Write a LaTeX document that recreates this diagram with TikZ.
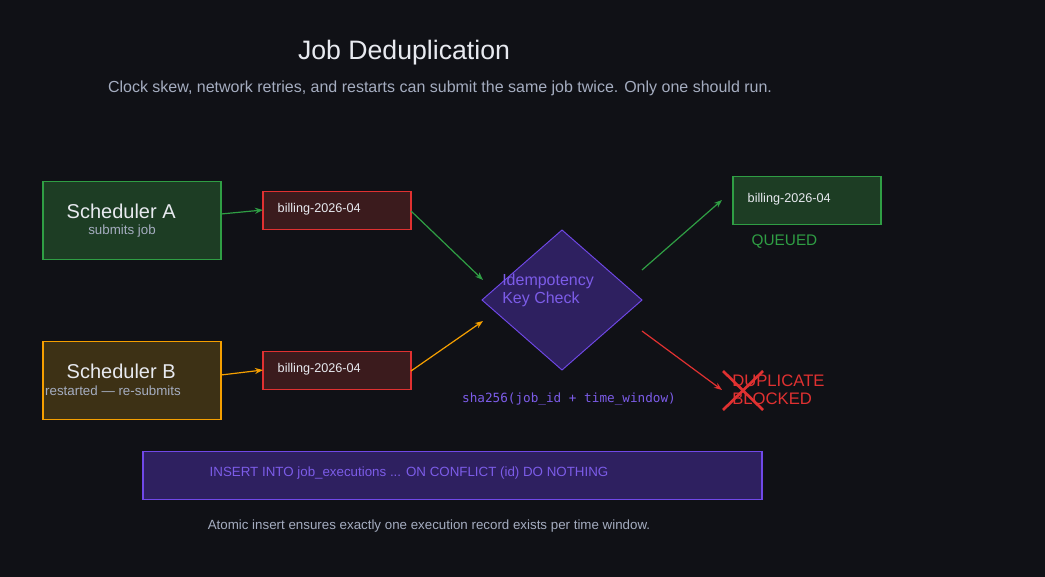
\documentclass[tikz,border=0pt]{standalone}
\usepackage{fontspec}
\setmainfont{Liberation Sans}
\setmonofont{DejaVu Sans Mono}
\usetikzlibrary{shapes.misc,arrows.meta}
\definecolor{bg}{HTML}{101116}
\definecolor{gfill}{HTML}{1D3D24}\definecolor{gline}{HTML}{2F9E44}
\definecolor{ofill}{HTML}{3D3115}\definecolor{oline}{HTML}{F59F00}
\definecolor{rfill}{HTML}{3B1B1D}\definecolor{rline}{HTML}{E03131}
\definecolor{pfill}{HTML}{2E2060}\definecolor{pline}{HTML}{7048E8}
\definecolor{ptext}{HTML}{7C5CE8}
\definecolor{sub}{HTML}{A5ADC0}\definecolor{wt}{HTML}{E8EAF0}
\begin{document}
\begin{tikzpicture}[x=0.75pt,y=-0.75pt,
 box/.style={chamfered rectangle,chamfered rectangle xsep=2.5pt,chamfered rectangle ysep=2.5pt,line width=1.1pt,inner sep=0pt,anchor=north west},
 arr/.style={-{Stealth[length=6pt,width=4.5pt]},line width=0.9pt}]
\fill[bg] (0,0) rectangle (1045,577);
\useasboundingbox (0,0) rectangle (1045,577);
\node[text=wt,font=\fontsize{20}{24}\selectfont] (title) at (404,53) {Job Deduplication};
\node[text=sub,font=\fontsize{12}{14}\selectfont] (subt) at (440,88) {Clock skew, network retries, and restarts can submit the same job twice. Only one should run.};
% scheduler boxes
\node[box,draw=gline,fill=gfill,minimum width=0.75*178pt,minimum height=0.75*78pt] (A) at (43,181) {};
\node[box,draw=oline,fill=ofill,minimum width=0.75*178pt,minimum height=0.75*78pt] (B) at (43,341) {};
\node[text=wt,font=\fontsize{15}{18}\selectfont,anchor=west] (At) at (62,211) {Scheduler A};
\node[text=sub,font=\fontsize{10}{12}\selectfont] (As) at (122,231) {submits job};
\node[text=wt,font=\fontsize{15}{18}\selectfont,anchor=west] (Bt) at (62,371) {Scheduler B};
\node[text=sub,font=\fontsize{10}{12}\selectfont] (Bs) at (113,391) {restarted — re-submits};
% billing
\node[box,draw=rline,fill=rfill,minimum width=0.75*148pt,minimum height=0.75*38pt] (J1) at (263,191) {};
\node[box,draw=rline,fill=rfill,minimum width=0.75*148pt,minimum height=0.75*38pt] (J2) at (263,351) {};
\node[text=wt,font=\fontsize{9.5}{11}\selectfont,anchor=west] at (273,209) {billing-2026-04};
\node[text=wt,font=\fontsize{9.5}{11}\selectfont,anchor=west] at (273,369) {billing-2026-04};
\node[box,draw=gline,fill=gfill,minimum width=0.75*148pt,minimum height=0.75*48pt] (Q) at (733,176) {};
\node[text=wt,font=\fontsize{9.5}{11}\selectfont,anchor=west] at (743,199) {billing-2026-04};
\node[text=gline,font=\fontsize{11.5}{14}\selectfont,anchor=west] (qd) at (747,242) {QUEUED};
% diamond
\draw[pline,fill=pfill,line width=0.7pt] (482,300) -- (562,230) -- (642,300) -- (562,370) -- cycle;
\node[text=ptext,font=\fontsize{12}{13}\selectfont,anchor=north west,align=left,inner sep=0pt] (D) at (502,274) {Idempotency\\Key Check};
\node[text=ptext,font=\ttfamily\fontsize{9.5}{12}\selectfont] (hash) at (569,399) {sha256(job\_id + time\_window)};
% arrows
\coordinate (a1) at (221,214); \coordinate (a2) at (263,210);
\coordinate (b1) at (221,375); \coordinate (b2) at (263,370);
\coordinate (c1) at (411,211); \coordinate (c2) at (483,280);
\coordinate (d1) at (411,371); \coordinate (d2) at (483,321);
\coordinate (e1) at (642,270); \coordinate (e2) at (722,200);
\coordinate (f1) at (642,331); \coordinate (f2) at (722,390);
\draw[arr,gline] (a1) -- (a2);
\draw[arr,oline] (b1) -- (b2);
\draw[arr,gline] (c1) -- (c2);
\draw[arr,oline] (d1) -- (d2);
\draw[arr,gline] (e1) -- (e2);
\draw[arr,rline] (f1) -- (f2);
% duplicate
\draw[rline,line width=2pt] (723,371) -- (763,410) (723,410) -- (763,371);
\node[text=rline,font=\fontsize{12.5}{13}\selectfont,anchor=north west,align=left,inner sep=0pt] (dup) at (732,375) {DUPLICATE\\BLOCKED};
% sql
\node[box,draw=pline,fill=pfill,minimum width=0.75*619pt,minimum height=0.75*48pt] (S) at (143,451) {};
\node[text=ptext,font=\fontsize{10}{12}\selectfont,anchor=west] at (205,473) {INSERT INTO job\_executions ... ON CONFLICT (id) DO NOTHING};
\node[text=sub,font=\fontsize{10}{12}\selectfont] (foot) at (429,526) {Atomic insert ensures exactly one execution record exists per time window.};
\end{tikzpicture}
\end{document}
